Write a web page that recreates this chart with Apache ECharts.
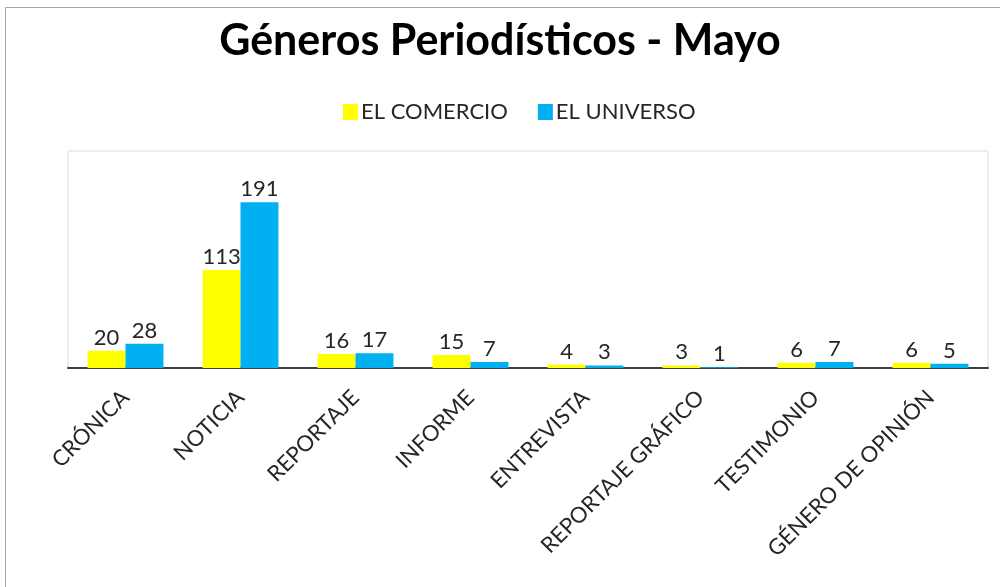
<!DOCTYPE html>
<html>
<head>
<meta charset="utf-8">
<script src="https://cdn.jsdelivr.net/npm/echarts@6/dist/echarts.min.js"></script>
<style>
  html, body { margin: 0; padding: 0; background: #fff; }
  #chart { width: 1000px; height: 587px; }
</style>
</head>
<body>
<div id="chart"></div>
<script>
const categories = ['CRÓNICA', 'NOTICIA', 'REPORTAJE', 'INFORME', 'ENTREVISTA', 'REPORTAJE GRÁFICO', 'TESTIMONIO', 'GÉNERO DE OPINIÓN'];
const elComercio = [20, 113, 16, 15, 4, 3, 6, 6];
const elUniverso = [28, 191, 17, 7, 3, 1, 7, 5];

const font = 'Lato, "Open Sans", sans-serif';
const chart = echarts.init(document.getElementById('chart'));

const labelStyle = {
  show: true,
  position: 'top',
  distance: 2,
  color: '#262626',
  fontSize: 22,
  fontFamily: font
};

chart.setOption({
  animation: false,
  graphic: [{
    type: 'rect',
    shape: { x: 5.5, y: 7.5, width: 1000, height: 600 },
    style: { fill: 'none', stroke: '#a6a6a6', lineWidth: 1 },
    silent: true
  }],
  title: {
    text: 'Géneros Periodísticos - Mayo',
    left: 'center',
    top: 15,
    textStyle: { fontSize: 43, fontWeight: 'bold', color: '#000', fontFamily: font }
  },
  legend: {
    top: 96,
    left: 338,
    itemWidth: 15,
    itemHeight: 16,
    itemGap: 30,
    icon: 'rect',
    textStyle: { fontSize: 22, color: '#262626', fontFamily: font, padding: [0, 0, 0, -2] },
    data: ['EL COMERCIO', 'EL UNIVERSO']
  },
  grid: {
    left: 68,
    right: 12,
    top: 151,
    bottom: 219,
    show: true,
    borderColor: '#d9d9d9',
    borderWidth: 1
  },
  xAxis: {
    type: 'category',
    data: categories,
    axisLine: { show: true, lineStyle: { color: '#404040', width: 2 } },
    axisTick: { show: false },
    axisLabel: {
      rotate: 45,
      interval: 0,
      margin: 26,
      color: '#262626',
      fontSize: 22,
      fontFamily: font
    }
  },
  yAxis: {
    type: 'value',
    min: 0,
    max: 250,
    show: false,
    splitLine: { show: false }
  },
  series: [
    {
      name: 'EL COMERCIO',
      type: 'bar',
      data: elComercio,
      itemStyle: { color: '#FFFF00' },
      barGap: '0%',
      barCategoryGap: '34%',
      label: labelStyle
    },
    {
      name: 'EL UNIVERSO',
      type: 'bar',
      data: elUniverso,
      itemStyle: { color: '#00B0F0' },
      label: labelStyle
    }
  ]
});
</script>
</body>
</html>
